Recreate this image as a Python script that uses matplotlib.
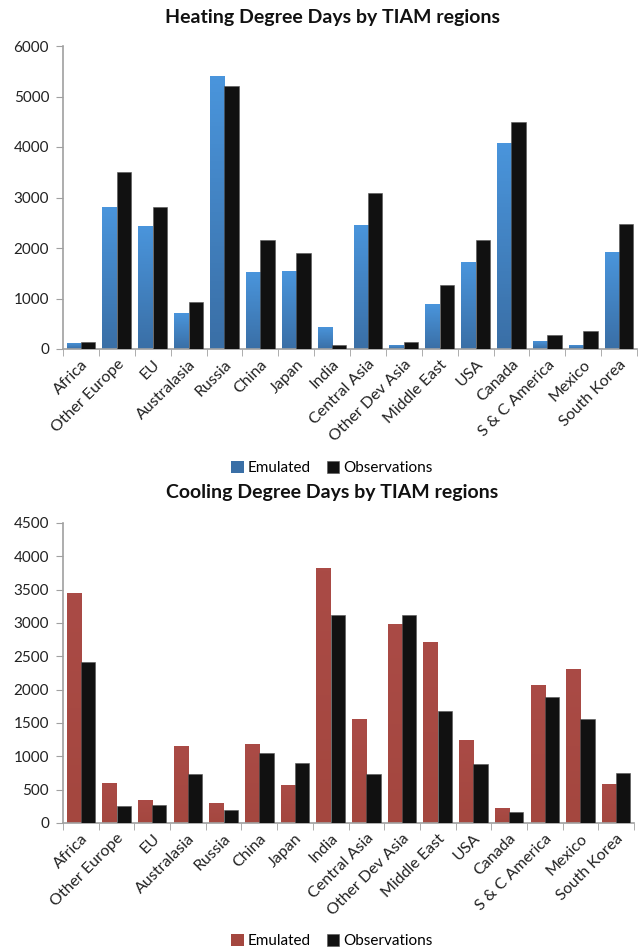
import numpy as np
import matplotlib
matplotlib.use('Agg')
import matplotlib.pyplot as plt
from matplotlib.colors import LinearSegmentedColormap

plt.rcParams['font.family'] = ['Lato', 'DejaVu Sans']

regions = ['Africa', 'Other Europe', 'EU', 'Australasia', 'Russia', 'China',
           'Japan', 'India', 'Central Asia', 'Other Dev Asia', 'Middle East',
           'USA', 'Canada', 'S & C America', 'Mexico', 'South Korea']

hdd_emulated = [120, 2810, 2440, 710, 5410, 1520, 1540, 440, 2460, 80, 890,
                1720, 4080, 160, 80, 1920]
hdd_observed = [140, 3500, 2820, 940, 5210, 2160, 1900, 70, 3080, 140, 1270,
                2160, 4490, 280, 350, 2470]

cdd_emulated = [3450, 600, 340, 1150, 300, 1190, 570, 3830, 1560, 2980, 2720,
                1240, 230, 2070, 2310, 585]
cdd_observed = [2420, 250, 270, 730, 200, 1050, 900, 3120, 730, 3120, 1680,
                890, 160, 1890, 1560, 750]

W, H = 639, 952
fig = plt.figure(figsize=(W / 100, H / 100), dpi=100)


def gradient_bars(ax, bars, top_col, bot_col):
    cmap = LinearSegmentedColormap.from_list('g', [bot_col, top_col])
    grad = np.linspace(0, 1, 64).reshape(-1, 1)
    for b in bars:
        x0, y0 = b.get_x(), b.get_y()
        x1, y1 = x0 + b.get_width(), y0 + b.get_height()
        im = ax.imshow(grad, cmap=cmap, aspect='auto', origin='lower',
                       extent=(x0, x1, y0, y1), zorder=2)
        im.set_clip_path(b)


def draw(ax, emul, obs, top_col, bot_col, ymax, step, title, title_y):
    x = np.arange(len(regions))
    w = 0.4
    b1 = ax.bar(x - w / 2, emul, w, color=bot_col, zorder=2, label='Emulated')
    gradient_bars(ax, b1, top_col, bot_col)
    ax.bar(x + w / 2, obs, w, color='#111111', zorder=3, label='Observations',
           edgecolor='#555555', linewidth=0.4)
    ax.set_xlim(-0.5, len(regions) - 0.5)
    ax.set_ylim(0, ymax)
    ax.set_yticks(np.arange(0, ymax + 1, step))
    ax.set_xticks(x)
    ax.set_xticklabels(regions, rotation=45, ha='right', va='top',
                       rotation_mode='anchor', fontsize=11.5, color='#222222')
    ax.set_xticks(np.arange(-0.5, len(regions), 1), minor=True)
    ax.tick_params(axis='x', which='major', length=0, pad=6)
    ax.tick_params(axis='x', which='minor', length=5, color='#a0a0a0')
    ax.tick_params(axis='y', length=5, color='#a0a0a0', labelsize=11,
                   labelcolor='#222222', pad=5)
    for s in ['top', 'right']:
        ax.spines[s].set_visible(False)
    for s in ['left', 'bottom']:
        ax.spines[s].set_color('#a0a0a0')
        ax.spines[s].set_linewidth(1.2)
    fig.text(0.52, title_y, title, ha='center', va='center', fontsize=14,
             fontweight='bold', color='#111111')


ax1 = fig.add_axes([63 / W, 1 - 349 / H, 574 / W, 303 / H])
draw(ax1, hdd_emulated, hdd_observed, '#4a95dc', '#3a6fa6', 6000, 1000,
     'Heating Degree Days by TIAM regions', 1 - 18 / H)
ax1.legend(loc='center', bbox_to_anchor=(332 / W, 1 - 468 / H),
           bbox_transform=fig.transFigure, ncol=2, frameon=False,
           handlelength=0.8, handleheight=0.8, handletextpad=0.3,
           columnspacing=1.0, fontsize=11)

ax2 = fig.add_axes([63 / W, 1 - 823 / H, 571 / W, 300 / H])
draw(ax2, cdd_emulated, cdd_observed, '#aa4b46', '#a4473f', 4500, 500,
     'Cooling Degree Days by TIAM regions', 1 - 492 / H)
ax2.legend(loc='center', bbox_to_anchor=(332 / W, 1 - 941 / H),
           bbox_transform=fig.transFigure, ncol=2, frameon=False,
           handlelength=0.8, handleheight=0.8, handletextpad=0.3,
           columnspacing=1.0, fontsize=11)

fig.savefig('out.png', dpi=100)
